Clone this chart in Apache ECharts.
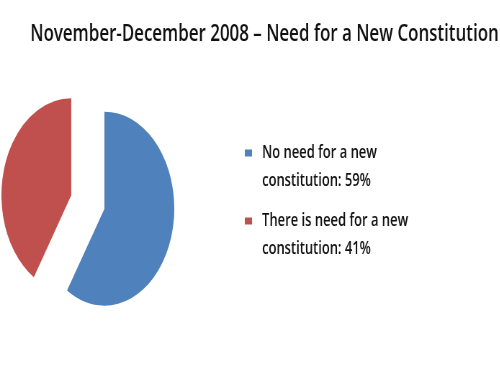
<!DOCTYPE html>
<html>
<head>
<meta charset="utf-8">
<script src="https://cdn.jsdelivr.net/npm/echarts@6/dist/echarts.min.js"></script>
<style>
html,body{margin:0;padding:0;background:#fff;}
#wrap{width:500px;height:384px;overflow:hidden;position:relative;}
#main{width:694px;height:384px;transform:scaleX(0.72);transform-origin:0 0;}
</style>
</head>
<body>
<div id="wrap"><div id="main"></div></div>
<script>
const titleText = 'November-December 2008 \u2013 Need for a New Constitution';
const categories = ['No need for a new\nconstitution', 'There is need for a new\nconstitution'];
const values = [59, 41];
const colors = ['#4F81BD', '#C0504D'];

const chart = echarts.init(document.getElementById('main'), null, {renderer: 'canvas'});
const LH = 28;
chart.setOption({
  backgroundColor: '#ffffff',
  animation: false,
  title: {
    text: titleText,
    left: 42,
    top: 22,
    padding: 0,
    textStyle: {fontFamily: 'Open Sans', fontSize: 23.5, fontWeight: 600, color: '#111'}
  },
  legend: {
    orient: 'vertical',
    left: 340,
    top: 111,
    padding: 0,
    itemGap: -16,
    itemWidth: 10,
    itemHeight: 7,
    icon: 'rect',
    selectedMode: false,
    data: categories,
    formatter: function (name) {
      const i = categories.indexOf(name);
      return '\n' + name + ': ' + values[i] + '%';
    },
    textStyle: {fontFamily: 'Open Sans', fontSize: 18, fontWeight: 600, lineHeight: LH, color: '#111', padding: [0, 0, 0, 9]}
  },
  series: [{
    type: 'pie',
    center: [122, 202],
    radius: [0, 97],
    startAngle: 90,
    clockwise: true,
    selectedMode: 'multiple',
    selectedOffset: 24,
    label: {show: false},
    labelLine: {show: false},
    emphasis: {disabled: true},
    select: {itemStyle: {}},
    data: categories.map(function (c, i) {
      return {name: c, value: values[i], selected: true, itemStyle: {color: colors[i]}};
    })
  }]
});
</script>
</body>
</html>
